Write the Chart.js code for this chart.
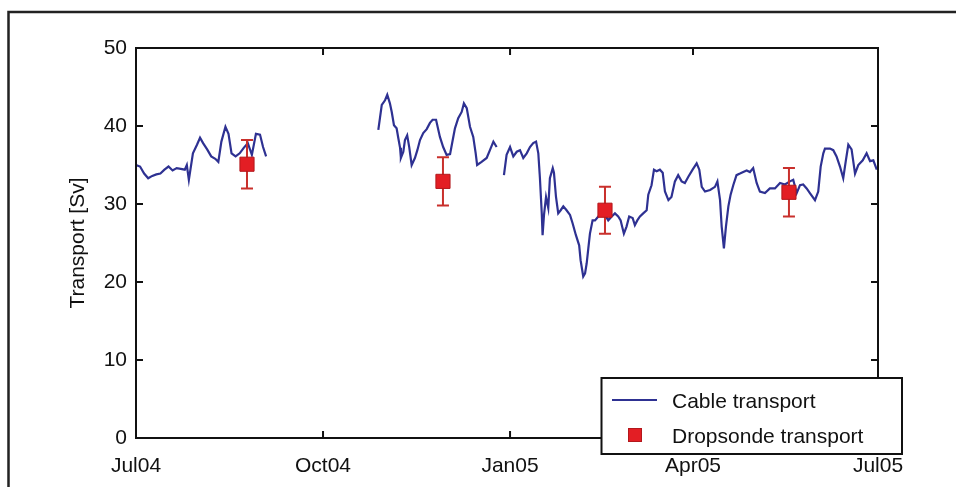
<!DOCTYPE html>
<html>
<head>
<meta charset="utf-8">
<script src="https://cdn.jsdelivr.net/npm/chart.js@4.4.1/dist/chart.umd.min.js"></script>
<style>
    html, body { margin: 0; padding: 0; background: #fff; }
    #wrap { position: relative; width: 956px; height: 487px; }
</style>
</head>
<body>
<div id="wrap"><canvas id="chart" width="956" height="487"></canvas></div>
<script>
// ==================== DATA ====================
// x = days since 1 Jul 2004, null value = gap in the cable record
const cableDays = [
    0, 2, 4, 6, 8, 10, 12, 14, 16, 18, 20, 22, 24, 25, 26, 28, 30, 31.5, 33, 35,
    37, 39, 40.5, 42, 44, 45.5, 47, 49, 51, 53, 55, 57, 59, 61, 62.5, 64,
    90,
    119.2, 120.0, 120.9, 122.5, 123.6, 124.9, 125.8, 126.9, 128.2, 129.0, 129.9, 130.3,
    131.5, 132.3, 133.4, 134.4, 135.6, 137.2, 138.4, 139.7, 141.3, 143.0, 144.6, 145.9,
    147.6, 149.5, 151.1, 152.8, 154.5, 155.8, 156.9, 158.5, 160.2, 161.3, 162.7, 164.3,
    165.9, 167.1, 167.8, 170.0, 172.5, 174.1, 175.8, 177.4,
    179,
    181.0, 182.3, 184.0, 185.6, 187.3, 188.9, 190.5, 192.2, 193.8, 195.4, 196.8, 197.9,
    198.7, 199.6, 200.0, 200.7, 201.7, 202.8, 203.6, 205.0, 205.6, 206.6, 207.7, 208.9,
    210.2, 211.8, 213.5, 214.8, 216.4, 218.0, 218.7, 220.0, 220.9, 221.7, 222.5, 223.3,
    224.6, 225.8, 227.4, 229.1, 230.7, 232.3, 234.0, 235.6, 237.2, 238.4, 240.0, 241.3,
    242.6, 244.3, 245.4, 246.6, 247.9, 249.5, 251.2, 252.0, 253.6, 254.8, 256.1, 257.7,
    259.1, 260.2, 261.9, 263.4, 265.1, 266.7, 268.4, 270.0, 271.7, 273.8, 275.8, 277.1,
    278.3, 279.9, 282.4, 284.8, 286.0, 287.3, 288.1, 289.2, 290.2, 291.4, 292.5, 293.8,
    295.4, 297.1, 298.7, 300.4, 302.0, 303.6, 305.3, 306.9, 309.4, 311.8, 314.3, 316.8,
    319.2, 321.7, 323.3, 325.0, 326.6, 328.2, 329.9, 331.5, 334.0, 335.6, 336.8, 338.1,
    338.9, 341.4, 343.0, 344.6, 346.3, 347.9, 349.2, 350.4, 352.0, 353.7, 355.3, 357.5,
    359.4, 361.1, 362.7, 364.4
];
const cableValues = [
    35.0, 34.8, 33.9, 33.3, 33.6, 33.8, 33.9, 34.4, 34.8, 34.3, 34.6, 34.5, 34.4, 35.0, 33.1, 36.5, 37.6, 38.5, 37.8, 37.0,
    36.1, 35.8, 35.4, 38.0, 39.9, 39.0, 36.5, 36.1, 36.5, 37.2, 37.8, 36.3, 39.0, 38.9, 37.3, 36.1,
    null,
    39.5, 41.0, 42.7, 43.3, 44.0, 42.9, 41.8, 40.1, 39.7, 38.5, 37.2, 35.9,
    36.7, 38.2, 38.8, 37.3, 35.0, 35.9, 36.9, 38.2, 39.1, 39.6, 40.4, 40.8,
    40.8, 38.6, 37.3, 36.3, 36.4, 38.2, 39.7, 41.0, 41.8, 42.9, 42.3, 39.9,
    38.6, 36.5, 35.0, 35.4, 35.9, 36.9, 38.0, 37.3,
    null,
    33.7, 36.3, 37.3, 36.1, 36.7, 36.9, 35.9, 36.5, 37.3, 37.8, 38.0, 36.5,
    33.3, 28.8, 26.0, 28.6, 30.9, 29.5, 33.3, 34.6, 34.0, 30.9, 28.8, 29.2,
    29.7, 29.2, 28.6, 27.5, 26.0, 24.7, 22.8, 20.7, 21.1, 22.4, 24.3, 26.2,
    27.9, 27.9, 28.4, 28.8, 28.6, 27.9, 28.4, 28.8, 28.4, 27.9, 26.2, 27.1,
    28.4, 28.2, 27.3, 27.9, 28.4, 28.8, 29.2, 31.2, 32.4, 34.4, 34.2, 34.4,
    34.0, 31.6, 30.5, 30.9, 32.9, 33.7, 32.9, 32.7, 33.5, 34.4, 35.2, 34.4,
    32.2, 31.6, 31.8, 32.2, 32.9, 30.5, 27.1, 24.3, 27.1, 29.7, 31.2, 32.4,
    33.7, 33.9, 34.1, 34.3, 34.1, 34.6, 32.7, 31.6, 31.4, 32.0, 32.0, 32.7,
    32.5, 32.9, 33.1, 31.4, 32.4, 32.5, 32.0, 31.4, 30.5, 31.6, 34.8, 36.5,
    37.1, 37.1, 36.9, 36.1, 34.8, 33.3, 35.6, 37.6, 37.0, 33.9, 35.0, 35.6,
    36.5, 35.5, 35.6, 34.4
];

const dropDays = [54.6, 151.0, 230.7, 321.2];
const dropValues = [35.1, 32.9, 29.2, 31.5];
const dropErrors = [3.1, 3.1, 3.0, 3.1];

const xTickDays = [0, 92, 184, 274, 365];
const xTickLabels = ['Jul04', 'Oct04', 'Jan05', 'Apr05', 'Jul05'];
const yTicks = [0, 10, 20, 30, 40, 50];

const LINE_COLOR = '#2e3192';
const DROP_COLOR = '#e31e24';
const ERR_COLOR = '#c9302c';
const FONT = '"Liberation Sans", Arial, sans-serif';

// ==================== DRAWING HELPERS ====================
const matlabPlugin = {
    id: 'matlabLook',
    afterDatasetDraw(chart, args) {
        // error bars go right after the cable line, under the red squares
        if (args.index !== 1) return;
        const { ctx, scales: { x, y } } = chart;
        ctx.save();
        ctx.strokeStyle = ERR_COLOR;
        ctx.lineWidth = 2;
        dropDays.forEach((d, i) => {
            const px = x.getPixelForValue(d);
            const top = y.getPixelForValue(dropValues[i] + dropErrors[i]);
            const bot = y.getPixelForValue(dropValues[i] - dropErrors[i]);
            ctx.beginPath();
            ctx.moveTo(px, top); ctx.lineTo(px, bot);
            ctx.moveTo(px - 6, top); ctx.lineTo(px + 6, top);
            ctx.moveTo(px - 6, bot); ctx.lineTo(px + 6, bot);
            ctx.stroke();
        });
        ctx.restore();
    },
    afterDraw(chart) {
        const { ctx, chartArea: a, scales: { x, y } } = chart;
        ctx.save();

        // axes box with inward ticks
        ctx.strokeStyle = '#111';
        ctx.lineWidth = 2;
        ctx.strokeRect(a.left, a.top, a.right - a.left, a.bottom - a.top);
        ctx.beginPath();
        xTickDays.forEach(d => {
            const px = x.getPixelForValue(d);
            ctx.moveTo(px, a.bottom); ctx.lineTo(px, a.bottom - 7);
            ctx.moveTo(px, a.top); ctx.lineTo(px, a.top + 7);
        });
        yTicks.forEach(v => {
            const py = y.getPixelForValue(v);
            ctx.moveTo(a.left, py); ctx.lineTo(a.left + 7, py);
            ctx.moveTo(a.right, py); ctx.lineTo(a.right - 7, py);
        });
        ctx.stroke();

        // figure frame (top and left edges visible)
        ctx.lineWidth = 2.5;
        ctx.strokeStyle = '#222';
        ctx.beginPath();
        ctx.moveTo(8.5, 487); ctx.lineTo(8.5, 12); ctx.lineTo(956, 12);
        ctx.stroke();

        // legend
        const lx = 601.5, ly = 378, lw = 300.5, lh = 76;
        ctx.fillStyle = '#fff';
        ctx.fillRect(lx, ly, lw, lh);
        ctx.lineWidth = 2;
        ctx.strokeStyle = '#111';
        ctx.strokeRect(lx, ly, lw, lh);

        ctx.strokeStyle = LINE_COLOR;
        ctx.lineWidth = 2.2;
        ctx.beginPath();
        ctx.moveTo(612, 400); ctx.lineTo(657, 400);
        ctx.stroke();

        ctx.fillStyle = DROP_COLOR;
        ctx.fillRect(628, 428, 14, 14);
        ctx.strokeStyle = '#b3181c';
        ctx.lineWidth = 1;
        ctx.strokeRect(628.5, 428.5, 13, 13);

        ctx.fillStyle = '#111';
        ctx.font = '21px ' + FONT;
        ctx.textBaseline = 'middle';
        ctx.textAlign = 'left';
        ctx.fillText(chart.data.datasets[1].label, 672, 402);
        ctx.fillText(chart.data.datasets[0].label, 672, 437);

        ctx.restore();
    }
};

// ==================== CHART ====================
Chart.defaults.font.family = FONT;
Chart.defaults.font.size = 21;
Chart.defaults.color = '#111';

new Chart(document.getElementById('chart'), {
    type: 'line',
    data: {
        datasets: [
            {
                label: 'Dropsonde transport',
                data: dropDays.map((d, i) => ({ x: d, y: dropValues[i] })),
                showLine: false,
                pointStyle: 'rect',
                pointRadius: 10,
                pointBackgroundColor: DROP_COLOR,
                pointBorderColor: '#b3181c',
                pointBorderWidth: 1,
                order: 0
            },
            {
                label: 'Cable transport',
                data: cableDays.map((d, i) => ({ x: d, y: cableValues[i] })),
                borderColor: LINE_COLOR,
                borderWidth: 2.2,
                tension: 0,
                pointRadius: 0,
                spanGaps: false,
                order: 1
            }
        ]
    },
    options: {
        responsive: false,
        animation: false,
        devicePixelRatio: 1,
        layout: { padding: { top: 48, right: 78, left: 0, bottom: 0 } },
        plugins: {
            legend: { display: false },
            tooltip: { enabled: false }
        },
        scales: {
            x: {
                type: 'linear',
                min: 0,
                max: 365,
                afterBuildTicks: s => { s.ticks = xTickDays.map(v => ({ value: v })); },
                afterFit: s => { s.height = 49; },
                ticks: {
                    autoSkip: false,
                    maxRotation: 0,
                    padding: 16,
                    callback: v => xTickLabels[xTickDays.indexOf(v)]
                },
                grid: { display: false, drawTicks: false },
                border: { display: false }
            },
            y: {
                type: 'linear',
                min: 0,
                max: 50,
                afterBuildTicks: s => { s.ticks = yTicks.map(v => ({ value: v })); },
                afterFit: s => { s.width = 136; },
                ticks: { padding: 9 },
                grid: { display: false, drawTicks: false },
                border: { display: false },
                title: {
                    display: true,
                    text: 'Transport [Sv]',
                    padding: { top: 66, bottom: 0 },
                    font: { size: 21 }
                }
            }
        }
    },
    plugins: [matlabPlugin]
});
</script>
</body>
</html>
